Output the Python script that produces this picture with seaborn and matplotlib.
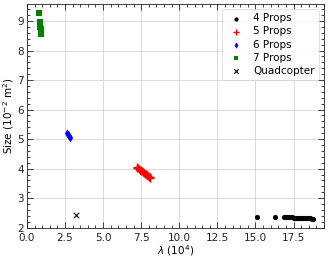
import pandas as pd
import matplotlib.pyplot as plt
import seaborn as sns
import numpy as np
from matplotlib.ticker import AutoMinorLocator

# lambda (10^4) and size (10^-2 m^2) for each configuration
x4 = [15.1, 16.3, 16.9, 17.0, 17.1, 17.2, 17.3, 17.4, 17.5, 17.6, 17.7, 17.8, 17.9,
      18.0, 18.1, 18.2, 18.3, 18.4, 18.5, 18.6, 18.7, 18.8]
y4 = [2.37, 2.36, 2.36, 2.36, 2.35, 2.35, 2.35, 2.35, 2.34, 2.34, 2.34, 2.34, 2.33,
      2.33, 2.33, 2.33, 2.32, 2.32, 2.32, 2.32, 2.31, 2.31]

x5 = [7.2, 7.25, 7.3, 7.35, 7.4, 7.45, 7.5, 7.55, 7.6, 7.65, 7.7, 7.75, 7.8, 7.85,
      7.9, 7.95, 8.0, 8.05, 8.1]
y5 = [4.05, 4.03, 4.01, 3.99, 3.97, 3.95, 3.93, 3.91, 3.89, 3.87, 3.85, 3.83, 3.81,
      3.79, 3.77, 3.75, 3.73, 3.71, 3.69]

x6 = [2.62, 2.65, 2.68, 2.71, 2.74, 2.77, 2.8, 2.83]
y6 = [5.21, 5.19, 5.16, 5.14, 5.11, 5.09, 5.06, 5.04]

x7 = [0.78, 0.88, 0.88, 0.89, 0.89, 0.9, 0.9, 0.9, 0.91]
y7 = [9.27, 8.98, 8.92, 8.85, 8.8, 8.74, 8.68, 8.62, 8.56]

xq = [3.2]
yq = [2.43]

plt.rcParams["font.family"] = ["DejaVu Sans"]
plt.rcParams.update({
    "axes.edgecolor": "#222222", "axes.linewidth": 0.6,
    "grid.color": "#d4d4d4", "grid.linewidth": 0.6,
})

fig = plt.figure(figsize=(3.32, 2.59), dpi=100)
ax = fig.add_axes([0.081, 0.121, 0.895, 0.864])
ax.set_axisbelow(True)
ax.grid(True, which="major")

sns.scatterplot(x=x4, y=y4, color="black", marker="o", s=14, linewidth=0, label="4 Props", ax=ax)
sns.scatterplot(x=x5, y=y5, color="red", marker="+", s=30, linewidth=1.0, label="5 Props", ax=ax)
sns.scatterplot(x=x6, y=y6, color="blue", marker="d", s=16, linewidth=0, label="6 Props", ax=ax)
sns.scatterplot(x=x7, y=y7, color="green", marker="s", s=14, linewidth=0, label="7 Props", ax=ax)
sns.scatterplot(x=xq, y=yq, color="black", marker="x", s=16, linewidth=0.8, label="Quadcopter", ax=ax)

ax.set_xlim(0, 19.5)
ax.set_ylim(2, 9.58)
ax.set_xticks(np.arange(0, 19, 2.5))
ax.xaxis.set_minor_locator(AutoMinorLocator(5))
ax.yaxis.set_minor_locator(AutoMinorLocator(5))
ax.tick_params(which="both", direction="in", top=True, right=True, bottom=True, left=True,
               color="#222222", width=0.6)
ax.tick_params(which="major", length=4, labelsize=7.5, colors="#222222")
ax.tick_params(axis="x", which="major", pad=3.5)
ax.tick_params(axis="y", which="major", pad=2)
ax.tick_params(which="minor", length=2.2)
ax.set_xlabel(r"$\lambda$ ($10^4$)", fontsize=7.5, labelpad=0.5)
ax.set_ylabel(r"Size ($10^{-2}$ m$^2$)", fontsize=7.5, labelpad=1)

leg = ax.legend(loc="upper right", fontsize=7.5, frameon=True, markerscale=0.8,
                handletextpad=0.6, borderpad=0.4, labelspacing=0.3)
leg.get_frame().set_linewidth(0.5)
leg.get_frame().set_edgecolor("#cccccc")

fig.savefig("out.png", dpi=100)
